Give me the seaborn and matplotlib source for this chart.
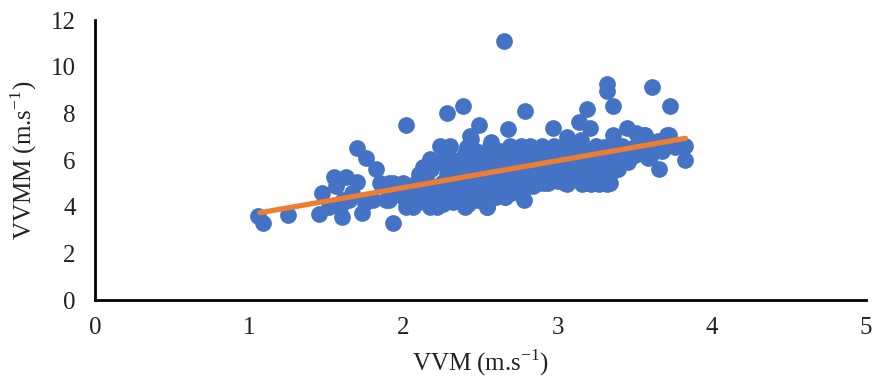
import matplotlib
matplotlib.use("Agg")
import matplotlib.pyplot as plt
import seaborn as sns
import pandas as pd

# VVM vs VVMM readings (m.s-1)
vvm = [
    1.06, 1.09, 1.25, 1.45, 1.47, 1.55, 1.63, 1.56, 1.70, 1.76, 1.82, 2.02,
    1.93, 1.60, 1.73, 1.70, 1.59, 1.80, 1.89, 1.85, 1.93, 2.00, 1.65, 1.52,
    2.02, 2.04, 1.57, 1.61, 1.67, 1.75,
    2.65, 2.28, 2.39, 2.49, 2.79, 2.68, 2.43, 2.24, 2.30, 2.57, 2.41,
    2.17, 2.29, 3.32, 3.32, 3.61, 3.36, 3.73, 3.19, 3.14, 3.21, 2.97, 3.45,
    3.36, 3.56, 3.72, 3.66, 2.06, 2.22, 2.40, 2.54, 2.78, 2.66, 3.34, 3.19,
    3.05, 2.91, 2.77, 3.37, 3.42, 3.60, 3.76, 1.91, 1.91, 2.13,
    3.51, 3.57, 3.71, 3.77, 3.83, 3.83, 3.59, 3.51, 3.32, 3.27, 3.22, 3.16,
    3.06, 3.05, 3.19, 3.30, 3.23, 3.15, 3.06,
    1.95, 1.98, 2.00, 2.05, 2.08, 2.10, 2.10,
    2.12, 2.15, 2.17, 2.18, 2.20, 2.22, 2.23, 2.25, 2.26, 2.28, 2.29, 2.30, 2.30,
    2.32, 2.34, 2.35, 2.36, 2.38, 2.39, 2.40, 2.41, 2.42, 2.43, 2.44, 2.45,
    2.46, 2.47, 2.48, 2.50, 2.50,
    2.52, 2.53, 2.54, 2.55, 2.56, 2.57, 2.58, 2.60, 2.60, 2.62, 2.63, 2.64,
    2.65, 2.66, 2.67, 2.68, 2.69, 2.70, 2.70,
    2.72, 2.73, 2.74, 2.75, 2.76, 2.77, 2.78, 2.80, 2.80, 2.82, 2.83, 2.84,
    2.85, 2.86, 2.88, 2.89, 2.90, 2.90,
    2.92, 2.93, 2.94, 2.96, 2.97, 2.98, 3.00, 3.00, 3.02, 3.03, 3.04, 3.05,
    3.06, 3.08, 3.09, 3.10,
    3.12, 3.13, 3.14, 3.16, 3.17, 3.18, 3.20, 3.21, 3.22, 3.24, 3.25, 3.26,
    3.27, 3.28, 3.30, 3.30,
    3.33, 3.35, 3.36, 3.38, 3.40, 3.42, 3.44, 3.46, 3.48, 3.50, 3.53, 3.55,
    3.58, 3.62, 3.65, 3.68, 3.75,
    2.14, 2.19, 2.27, 2.33, 2.37, 2.44, 2.49, 2.55, 2.59, 2.63, 2.71, 2.74,
    2.81, 2.87, 2.95, 2.99, 3.07, 3.11, 3.15, 3.23, 3.29, 3.39, 2.36, 2.52,
    2.61, 2.79, 2.92, 3.01, 3.13, 3.26,
]
vvmm = [
    3.60, 3.29, 3.64, 3.69, 4.60, 5.29, 5.29, 4.89, 6.50, 6.10, 5.60, 7.50,
    3.29, 3.57, 3.74, 5.07, 4.00, 4.29, 4.29, 5.00, 5.00, 5.00, 4.29, 4.00,
    4.00, 4.43, 5.07, 4.29, 4.60, 4.16,
    11.10, 8.00, 8.31, 7.50, 8.11, 7.31, 7.03, 6.60, 6.60, 6.79, 6.57,
    6.03, 6.03, 9.24, 8.96, 9.11, 8.31, 8.31, 8.19, 7.64, 7.36, 7.36, 7.36,
    7.07, 7.07, 7.07, 5.60, 3.97, 3.97, 3.97, 3.97, 4.29, 4.43, 5.00, 5.00,
    5.00, 5.00, 5.00, 5.57, 6.00, 6.14, 6.57, 4.29, 5.00, 5.71,
    7.14, 7.07, 7.07, 6.60, 6.60, 6.00, 6.07, 6.29, 4.97, 4.97, 4.97, 4.97,
    4.97, 5.43, 5.43, 6.57, 6.29, 6.86, 7.00,
    4.60, 4.90, 4.40, 4.70, 5.00, 4.20, 5.40,
    4.50, 5.20, 4.00, 5.60, 4.80, 4.30, 5.90, 5.00, 4.10, 5.40, 6.20, 4.60, 5.70,
    4.20, 5.10, 4.80, 6.00, 4.40, 5.50, 6.30, 4.90, 4.10, 5.80, 6.90, 4.60,
    5.30, 6.40, 4.30, 5.00, 5.90,
    4.60, 6.20, 4.00, 5.40, 6.60, 4.90, 5.70, 4.40, 6.00, 5.20, 6.40, 4.70,
    5.50, 4.40, 6.10, 5.00, 6.60, 4.60, 5.80,
    5.20, 6.30, 4.90, 5.60, 6.60, 4.50, 5.00, 6.00, 5.30, 6.60, 5.70, 4.90,
    6.30, 5.50, 5.00, 6.00, 6.60, 5.30,
    5.70, 6.30, 5.00, 6.00, 5.40, 6.60, 5.10, 5.80, 6.40, 5.40, 6.00, 5.00,
    6.70, 5.60, 6.20, 5.20,
    5.90, 6.50, 5.40, 6.10, 5.00, 5.70, 6.40, 5.30, 6.00, 5.60, 6.60, 5.10,
    6.20, 5.80, 5.30, 6.50,
    6.00, 5.50, 6.40, 6.10, 5.80, 6.60, 6.20, 5.90, 6.50, 6.20, 6.80, 6.30,
    6.90, 6.50, 6.80, 6.40, 6.70,
    4.90, 4.60, 4.80, 4.50, 5.30, 5.10, 4.70, 5.00, 5.60, 4.90, 5.40, 5.10,
    5.00, 5.80, 5.60, 5.30, 5.40, 5.70, 5.60, 5.80, 6.00, 5.60, 5.60, 5.90,
    5.30, 5.50, 5.20, 5.60, 5.30, 5.90,
]

# linear trend line end points as drawn in the reference
trend_x = [1.07, 3.83]
trend_y = [3.74, 6.93]

df = pd.DataFrame({"VVM": vvm, "VVMM": vvmm})
trend = pd.DataFrame({"VVM": trend_x, "VVMM": trend_y})

sns.set_style("white")
plt.rcParams["font.family"] = ["Liberation Serif", "DejaVu Serif"]
plt.rcParams["mathtext.fontset"] = "custom"
plt.rcParams["mathtext.rm"] = "Liberation Serif"

fig = plt.figure(figsize=(8.74, 3.87), dpi=100)
ax = fig.add_axes([0.1087, 0.2248, 0.882, 0.7235])

sns.scatterplot(x="VVM", y="VVMM", data=df, ax=ax, color="#4472C4",
                s=145, linewidth=0, alpha=1, zorder=2)
sns.lineplot(x="VVM", y="VVMM", data=trend, ax=ax, color="#ED7D31",
             linewidth=3.8, zorder=3)

ax.set_xlim(0, 5)
ax.set_ylim(0, 12)
ax.set_xticks(range(0, 6))
ax.set_yticks(range(0, 13, 2))
ax.tick_params(axis="both", length=0, labelsize=18, colors="#222222")
ax.tick_params(axis="x", pad=12)
ax.tick_params(axis="y", pad=14)

for side in ["top", "right"]:
    ax.spines[side].set_visible(False)
for side in ["left", "bottom"]:
    ax.spines[side].set_color("black")
    ax.spines[side].set_linewidth(2)

ax.set_xlabel("VVM (m.s$^{-1}$)", fontsize=18, color="#222222", labelpad=6)
ax.set_ylabel("VVMM (m.s$^{-1}$)", fontsize=18, color="#222222", labelpad=8)

fig.savefig("out.png", dpi=100)
